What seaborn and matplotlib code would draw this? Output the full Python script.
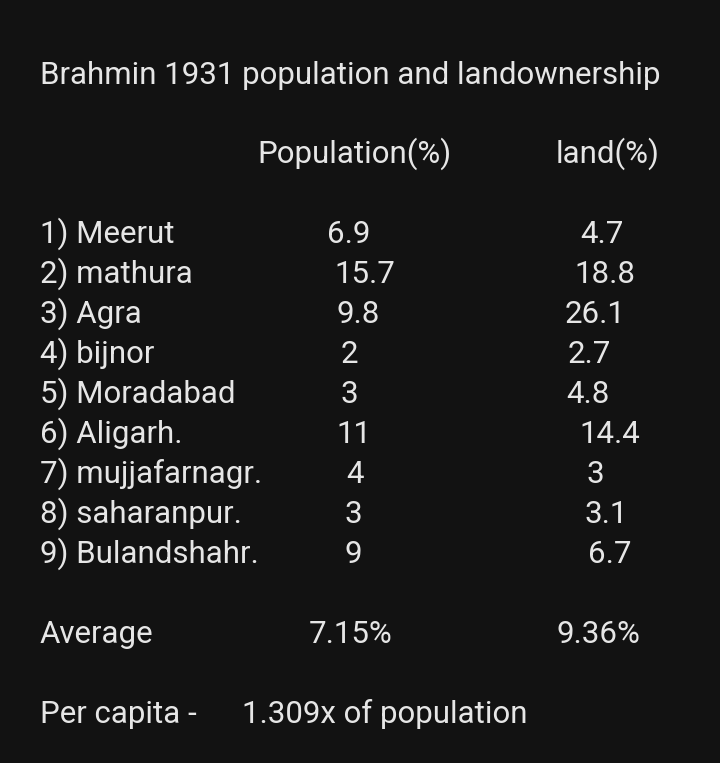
import matplotlib
matplotlib.use("Agg")
import matplotlib.pyplot as plt
import seaborn as sns

# ---- data ----
title = "Brahmin 1931 population and landownership"
districts = ["1) Meerut", "2) mathura", "3) Agra", "4) bijnor", "5) Moradabad",
             "6) Aligarh.", "7) mujjafarnagr.", "8) saharanpur.", "9) Bulandshahr."]
population = ["6.9", "15.7", "9.8", "2", "3", "11", "4", "3", "9"]
land = ["4.7", "18.8", "26.1", "2.7", "4.8", "14.4", "3", "3.1", "6.7"]
avg_population = "7.15%"
avg_land = "9.36%"
per_capita = "1.309x of population"

# ---- layout (pixel positions of the original screenshot) ----
pop_x = [327, 334, 337, 341, 340, 336, 346, 345, 345]
land_x = [580, 574, 565, 568, 566, 579, 587, 585, 588]
row_y0, row_dy = 243, 40

sns.set_theme(style="dark")
plt.rcParams["font.family"] = ["Roboto", "DejaVu Sans"]
BG = "#121212"
FG = "#e6e6e6"

fig = plt.figure(figsize=(7.2, 7.63), dpi=100, facecolor=BG)
ax = fig.add_axes([0, 0, 1, 1])
ax.set_facecolor(BG)
ax.set_xlim(0, 720)
ax.set_ylim(763, 0)
ax.axis("off")

kw = dict(color=FG, fontsize=22.5, va="baseline", ha="left")
ax.text(40, 84, title, **kw)
ax.text(257, 163, "Population(%)", **kw)
ax.text(556, 163, "land(%)", **kw)

for i, (d, p, l) in enumerate(zip(districts, population, land)):
    y = row_y0 + i * row_dy
    ax.text(40, y, d, **kw)
    ax.text(pop_x[i], y, p, **kw)
    ax.text(land_x[i], y, l, **kw)

ax.text(40, 643, "Average", **kw)
ax.text(309, 643, avg_population, **kw)
ax.text(557, 643, avg_land, **kw)

ax.text(40, 723, "Per capita -", **kw)
ax.text(242, 723, per_capita, **kw)

plt.savefig("out.png", dpi=100, facecolor=BG)
plt.close()
